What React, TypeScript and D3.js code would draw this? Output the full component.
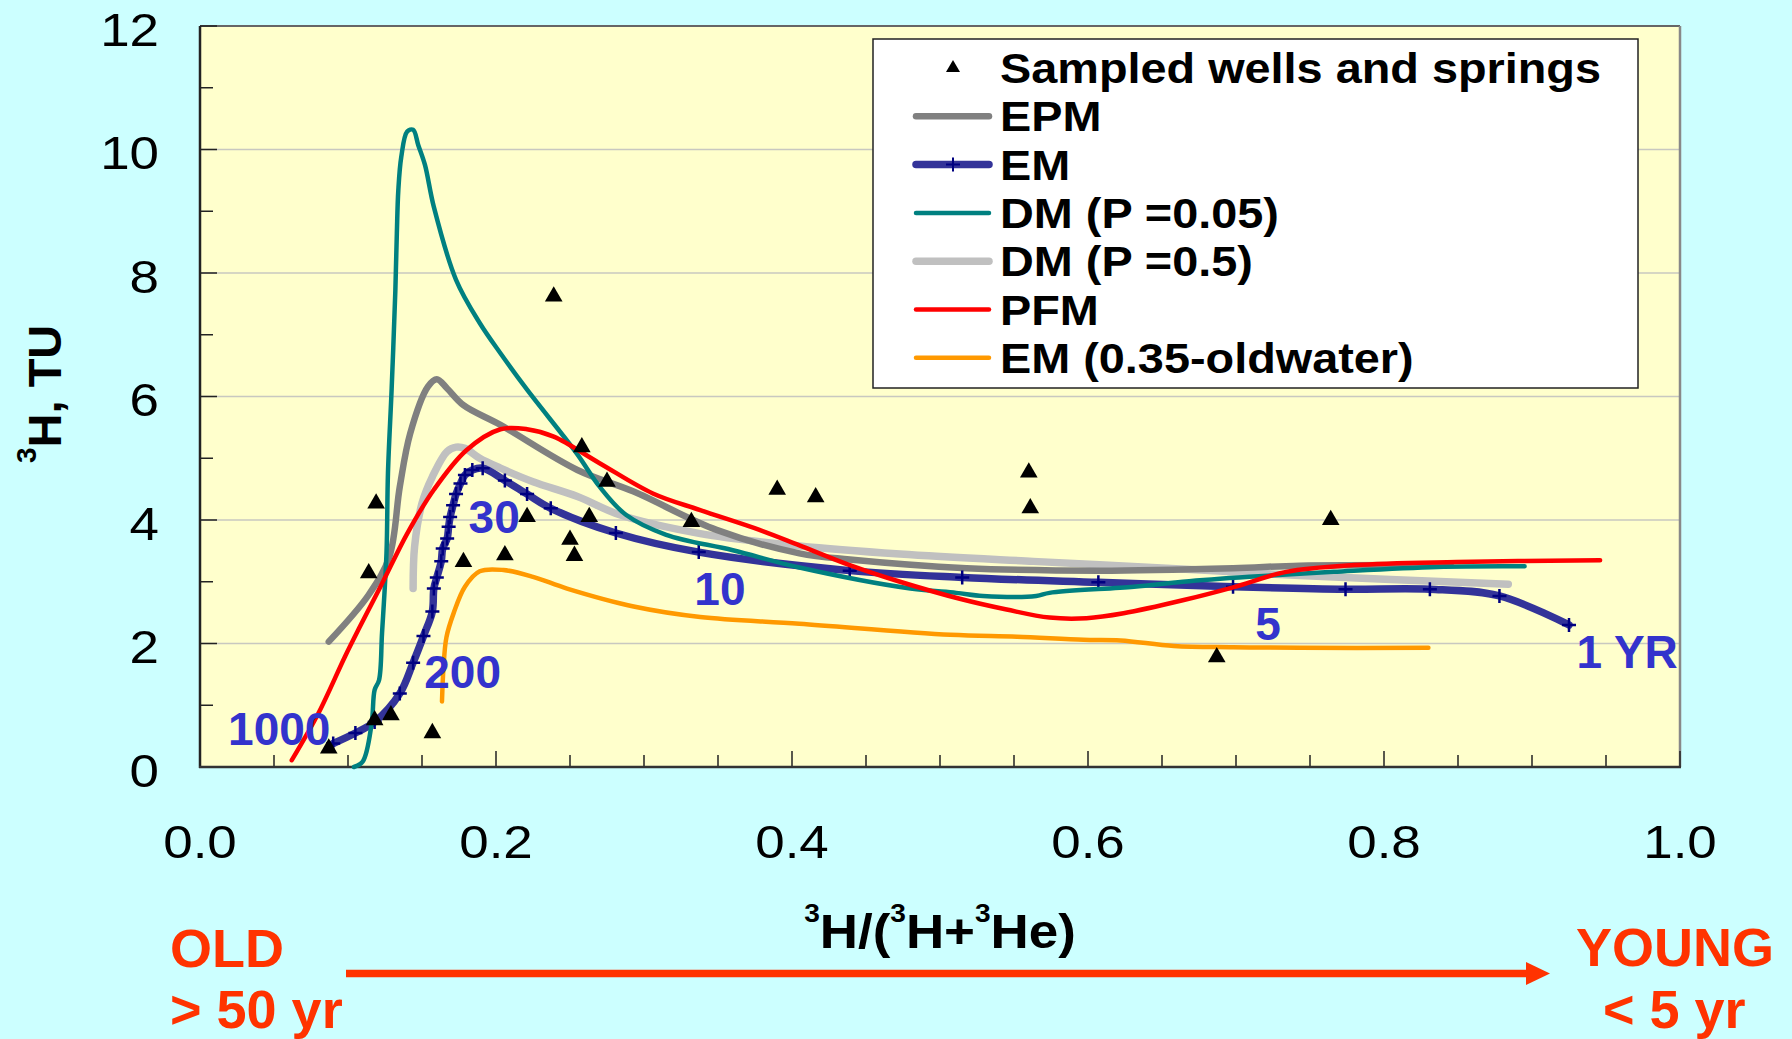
import React from 'react';
import * as d3 from 'd3';

type Pt = [number, number];

// sampled wells and springs (3H/(3H+3He), 3H TU)
const wells: Pt[] = [
  [0.087, 0.3], [0.114, 3.14], [0.118, 0.76], [0.119, 4.27], [0.129, 0.84], [0.157, 0.55],
  [0.178, 3.32], [0.206, 3.43], [0.221, 4.05], [0.239, 7.62], [0.25, 3.68], [0.253, 3.42],
  [0.258, 5.18], [0.263, 4.05], [0.275, 4.62], [0.332, 3.97], [0.39, 4.49], [0.416, 4.37],
  [0.56, 4.77], [0.561, 4.19], [0.687, 1.78], [0.764, 4.0]
];

const epm: Pt[] = [
  [0.087, 2.03], [0.114, 2.79], [0.128, 3.41], [0.135, 4.54], [0.142, 5.4], [0.154, 6.16],
  [0.16, 6.28], [0.167, 6.13], [0.178, 5.86], [0.203, 5.54], [0.255, 4.81], [0.293, 4.46],
  [0.349, 3.84], [0.405, 3.46], [0.439, 3.36], [0.518, 3.22], [0.608, 3.18], [0.698, 3.22],
  [0.743, 3.26], [0.845, 3.27]
];

const em: Pt[] = [
  [0.09, 0.38], [0.105, 0.55], [0.118, 0.73], [0.135, 1.19], [0.144, 1.69], [0.151, 2.12],
  [0.157, 2.52], [0.158, 2.89], [0.16, 3.07], [0.163, 3.33], [0.164, 3.54], [0.167, 3.7],
  [0.168, 3.89], [0.169, 4.05], [0.171, 4.24], [0.173, 4.42], [0.176, 4.59], [0.179, 4.73],
  [0.184, 4.81], [0.191, 4.84], [0.206, 4.64], [0.221, 4.42], [0.237, 4.19], [0.281, 3.79],
  [0.337, 3.48], [0.439, 3.18], [0.515, 3.07], [0.607, 2.99], [0.698, 2.92], [0.774, 2.88],
  [0.831, 2.88], [0.878, 2.77], [0.925, 2.3]
];

const dm005: Pt[] = [
  [0.104, 0.0], [0.11, 0.09], [0.116, 0.71], [0.118, 1.25], [0.121, 1.41], [0.123, 2.17],
  [0.126, 3.46], [0.127, 4.76], [0.1295, 6.13], [0.132, 7.72], [0.133, 8.64], [0.134, 9.34],
  [0.136, 9.88], [0.14, 10.29], [0.144, 10.32], [0.1475, 10.07], [0.152, 9.75], [0.158, 9.07],
  [0.173, 7.89], [0.189, 7.19], [0.203, 6.7], [0.221, 6.11], [0.2545, 5.08], [0.27, 4.54],
  [0.288, 4.08], [0.315, 3.76], [0.36, 3.51], [0.405, 3.23], [0.48, 2.89], [0.511, 2.82],
  [0.529, 2.77], [0.565, 2.77], [0.574, 2.82], [0.631, 2.92], [0.664, 3.0], [0.709, 3.08],
  [0.766, 3.16], [0.836, 3.24], [0.895, 3.25]
];

const dm05: Pt[] = [
  [0.144, 2.89], [0.145, 3.57], [0.15, 4.27], [0.157, 4.7], [0.167, 5.11], [0.173, 5.18],
  [0.179, 5.16], [0.189, 5.0], [0.203, 4.84], [0.225, 4.62], [0.255, 4.38], [0.284, 4.08],
  [0.338, 3.78], [0.405, 3.58], [0.473, 3.45], [0.563, 3.33], [0.653, 3.22], [0.743, 3.1],
  [0.884, 2.96]
];

const pfm: Pt[] = [
  [0.062, 0.11], [0.08, 0.87], [0.098, 1.79], [0.108, 2.27], [0.123, 2.97], [0.14, 3.78],
  [0.158, 4.49], [0.18, 5.13], [0.203, 5.47], [0.221, 5.47], [0.239, 5.35], [0.27, 4.92],
  [0.306, 4.43], [0.338, 4.16], [0.378, 3.84], [0.405, 3.59], [0.439, 3.27], [0.473, 3.0],
  [0.514, 2.72], [0.545, 2.55], [0.574, 2.42], [0.599, 2.41], [0.624, 2.49], [0.664, 2.7],
  [0.698, 2.91], [0.734, 3.16], [0.78, 3.27], [0.849, 3.32], [0.946, 3.35]
];

const emOld: Pt[] = [
  [0.1635, 1.06], [0.1645, 1.6], [0.1665, 2.1], [0.1715, 2.5], [0.179, 2.92], [0.189, 3.17],
  [0.205, 3.19], [0.225, 3.08], [0.248, 2.89], [0.293, 2.6], [0.338, 2.43], [0.405, 2.32],
  [0.507, 2.14], [0.552, 2.11], [0.597, 2.06], [0.622, 2.05], [0.658, 1.96], [0.698, 1.94],
  [0.743, 1.93], [0.83, 1.93]
];

// residence time labels along the EM curve
const ageLabels = ['1000', '200', '30', '10', '5', '1 YR'];
const ageAt: Pt[] = [[0.019, 0.356], [0.1515, 1.28], [0.1815, 3.79], [0.334, 2.62], [0.713, 2.06], [0.93, 1.6]];

const yTicks = [0, 2, 4, 6, 8, 10, 12];
const xTicks = [0, 0.2, 0.4, 0.6, 0.8, 1.0];
const xTickLabels = ['0.0', '0.2', '0.4', '0.6', '0.8', '1.0'];

const legendNames = ['Sampled wells and springs', 'EPM', 'EM', 'DM (P =0.05)', 'DM (P =0.5)', 'PFM', 'EM (0.35-oldwater)'];

const FONT = '"Liberation Sans", Arial, Helvetica, sans-serif';

export default function App() {
  const x = d3.scaleLinear().domain([0, 1]).range([200, 1680]);
  const y = d3.scaleLinear().domain([0, 12]).range([767, 26]);
  const line = d3
    .line<Pt>()
    .x(d => x(d[0]))
    .y(d => y(d[1]))
    .curve(d3.curveCatmullRom.alpha(0.5));

  const tri = d3.symbol(d3.symbolTriangle, 135)() as string;
  const triSmall = d3.symbol(d3.symbolTriangle, 85)() as string;
  const plus = 'M-7,0H7M0,-7V7';

  const series = [
    { name: 'EPM', data: epm, color: '#808080', width: 6.5 },
    { name: 'EM', data: em, color: '#333399', width: 7.5, marker: true },
    { name: 'DM (P =0.05)', data: dm005, color: '#008080', width: 4.5 },
    { name: 'DM (P =0.5)', data: dm05, color: '#C0C0C0', width: 7.5 },
    { name: 'PFM', data: pfm, color: '#FF0000', width: 4.5 },
    { name: 'EM (0.35-oldwater)', data: emOld, color: '#FF9900', width: 4.5 }
  ];
  // drawing order (light gray under the rest)
  const drawOrder = [3, 0, 1, 2, 4, 5];

  const minorX = d3.range(0, 21).map(i => i * 0.05);
  const minorY = d3.range(0, 13);

  return (
    <svg width={1792} height={1039} style={{ position: 'absolute', left: 0, top: 0 }} fontFamily={FONT}>
      <rect width={1792} height={1039} fill="#CCFFFF" />
      <rect x={200} y={26} width={1480} height={741} fill="#FFFFCC" />

      {/* grid */}
      {yTicks.slice(1, -1).map(v => (
        <line key={v} x1={200} x2={1680} y1={y(v)} y2={y(v)} stroke="#c8c8c0" strokeWidth={1.5} />
      ))}

      {/* frame */}
      <line x1={200} x2={1680} y1={26} y2={26} stroke="#666" strokeWidth={2} />
      <line x1={1680} x2={1680} y1={26} y2={767} stroke="#888" strokeWidth={2.5} />

      {/* ticks */}
      {minorY.map(v => (
        <line key={'ty' + v} x1={200} x2={200 + (v % 2 === 0 ? 17 : 13)} y1={y(v)} y2={y(v)} stroke="#222" strokeWidth={1.5} />
      ))}
      {minorX.map((v, i) => (
        <line key={'tx' + i} x1={x(v)} x2={x(v)} y1={767} y2={767 - (i % 4 === 0 ? 16 : 12)} stroke="#222" strokeWidth={1.5} />
      ))}
      <line x1={200} x2={200} y1={26} y2={768} stroke="#222" strokeWidth={2.5} />
      <line x1={199} x2={1681} y1={767} y2={767} stroke="#333" strokeWidth={2.5} />

      {/* model curves */}
      {drawOrder.map(i => {
        const s = series[i];
        return (
          <g key={s.name}>
            <path d={line(s.data) as string} fill="none" stroke={s.color} strokeWidth={s.width} strokeLinecap="round" strokeLinejoin="round" />
            {s.marker &&
              s.data.map((d, j) => (
                <path key={j} d={plus} transform={`translate(${x(d[0])},${y(d[1])})`} stroke="#000080" strokeWidth={2.5} fill="none" />
              ))}
          </g>
        );
      })}

      {/* samples */}
      {wells.map((d, i) => (
        <path key={i} d={tri} transform={`translate(${x(d[0])},${y(d[1])})`} fill="#000" />
      ))}

      {/* age labels */}
      {ageLabels.map((t, i) => (
        <text key={t} x={x(ageAt[i][0])} y={y(ageAt[i][1])} fontSize={46} fontWeight="bold" fill="#3333CC">
          {t}
        </text>
      ))}

      {/* y tick labels */}
      {yTicks.map(v => (
        <g key={v} transform={`translate(159,${y(v) + 19.5}) scale(1.15,1)`}>
          <text textAnchor="end" fontSize={46} fill="#000">
            {v}
          </text>
        </g>
      ))}
      {/* x tick labels */}
      {xTicks.map((v, i) => (
        <g key={v} transform={`translate(${x(v)},858) scale(1.15,1)`}>
          <text textAnchor="middle" fontSize={46} fill="#000">
            {xTickLabels[i]}
          </text>
        </g>
      ))}

      {/* axis titles */}
      <text transform="translate(61,463) rotate(-90)" fontSize={47} fontWeight="bold" fill="#000">
        <tspan fontSize={28} dy={-25}>3</tspan>
        <tspan dy={25}>H, TU</tspan>
      </text>
      <g transform="translate(940,948) scale(1.08,1)">
        <text textAnchor="middle" fontSize={49} fontWeight="bold" fill="#000">
          <tspan fontSize={26} dy={-26}>3</tspan>
          <tspan dy={26}>H/(</tspan>
          <tspan fontSize={26} dy={-26}>3</tspan>
          <tspan dy={26}>H+</tspan>
          <tspan fontSize={26} dy={-26}>3</tspan>
          <tspan dy={26}>He)</tspan>
        </text>
      </g>

      {/* old -> young arrow */}
      <g fill="#FF3300" fontSize={54} fontWeight="bold">
        <text x={170} y={967}>OLD</text>
        <text x={170} y={1028}>{'> 50 yr'}</text>
        <text x={1576} y={966}>YOUNG</text>
        <text x={1603} y={1028}>{'< 5 yr'}</text>
        <line x1={346} x2={1528} y1={973.5} y2={973.5} stroke="#FF3300" strokeWidth={7.5} />
        <polygon points="1526,962 1550,973.5 1526,985" />
      </g>

      {/* legend */}
      <g>
        <rect x={873} y={39} width={765} height={349} fill="#fff" stroke="#222" strokeWidth={1.5} />
        {legendNames.map((name, i) => {
          const cy = 68 + i * 48.3;
          const s = series[i - 1];
          return (
            <g key={name}>
              {i === 0 ? (
                <path d={triSmall} transform={`translate(953,${cy})`} fill="#000" />
              ) : (
                <>
                  <line x1={916} x2={989} y1={cy} y2={cy} stroke={s.color} strokeWidth={s.width} strokeLinecap="round" />
                  {s.marker && <path d={plus} transform={`translate(953,${cy})`} stroke="#000080" strokeWidth={2} fill="none" />}
                </>
              )}
              <g transform={`translate(1000,${cy + 15}) scale(1.115,1)`}>
                <text fontSize={42} fontWeight="bold" fill="#000">
                  {name}
                </text>
              </g>
            </g>
          );
        })}
      </g>
    </svg>
  );
}
